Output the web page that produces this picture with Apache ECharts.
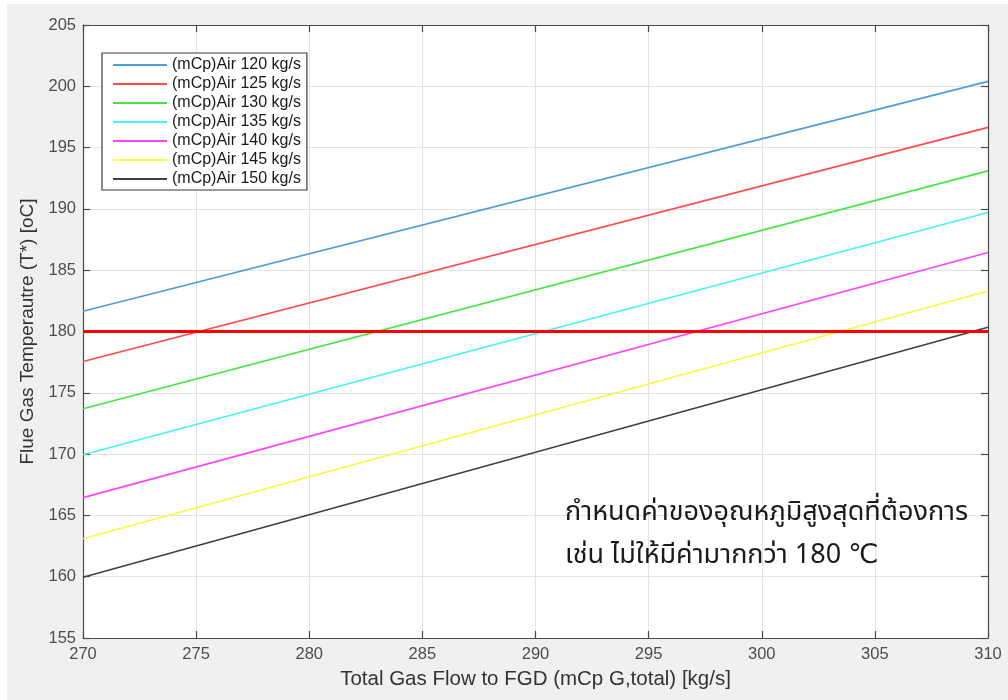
<!DOCTYPE html>
<html>
<head>
<meta charset="utf-8">
<script src="https://cdn.jsdelivr.net/npm/echarts@6/dist/echarts.min.js"></script>
<style>
  html, body { margin: 0; padding: 0; background: #ffffff; }
  #chart { position: absolute; left: 7px; top: 4px; width: 1001px; height: 696px; background: #f0f0f0; }
</style>
</head>
<body>
<div id="chart"></div>
<script>
// Gas flow to FGD [kg/s] at the two ends of each straight line
const gasFlow = [270, 310];

// Air flow cases (mCp)Air [kg/s]
const airFlows = [120, 125, 130, 135, 140, 145, 150];

// Flue gas temperature T* [oC] at gasFlow = 270 and 310, per air flow case
const temp120 = [181.65, 200.4];
const temp125 = [177.55, 196.65];
const temp130 = [173.7, 193.1];
const temp135 = [169.95, 189.7];
const temp140 = [166.45, 186.45];
const temp145 = [163.1, 183.3];
const temp150 = [159.95, 180.35];

// Upper temperature limit
const limitTemp = 180;

const xTicks = { min: 270, max: 310, interval: 5 };
const yTicks = { min: 155, max: 205, interval: 5 };

const seriesTemps = [temp120, temp125, temp130, temp135, temp140, temp145, temp150];
const lineColors = ['#4d9dd8', '#ff4a4a', '#44e644', '#44f4f4', '#ff44ff', '#f8f840', '#404040'];

const font = 'Liberation Sans, Arial, sans-serif';
const tickColor = '#4d4d4d';
const axisColor = '#4a4a4a';

const series = airFlows.map((a, i) => ({
  name: '(mCp)Air ' + a + ' kg/s',
  type: 'line',
  symbol: 'none',
  silent: true,
  animation: false,
  data: gasFlow.map((x, j) => [x, seriesTemps[i][j]]),
  lineStyle: { color: lineColors[i], width: 1.6 },
  itemStyle: { color: lineColors[i] },
  z: 3
}));

series.push({
  name: 'limit',
  type: 'line',
  symbol: 'none',
  silent: true,
  animation: false,
  data: gasFlow.map(x => [x, limitTemp]),
  lineStyle: { color: '#ff0000', width: 3 },
  z: 4
});

const chart = echarts.init(document.getElementById('chart'), null, { renderer: 'canvas' });

const gridBox = { left: 76, right: 20, top: 21, bottom: 62 };

function sideAxis(extra) {
  return Object.assign({
    type: 'value',
    axisLine: { show: true, onZero: false, lineStyle: { color: axisColor, width: 1.2 } },
    axisTick: { show: true, inside: true, length: 7, lineStyle: { color: axisColor, width: 1.2 } },
    axisLabel: { show: false },
    splitLine: { show: false }
  }, extra);
}

chart.setOption({
  animation: false,
  backgroundColor: '#f0f0f0',
  grid: Object.assign({ backgroundColor: '#ffffff', show: true, borderWidth: 0 }, gridBox),
  legend: {
    data: series.slice(0, 7).map(s => s.name),
    orient: 'vertical',
    left: 95,
    top: 49,
    itemWidth: 54,
    itemHeight: 14,
    itemGap: 3,
    padding: [4, 6, 3, 10],
    backgroundColor: '#ffffff',
    borderColor: '#3c3c3c',
    borderWidth: 1.2,
    selectedMode: false,
    itemStyle: { opacity: 0 },
    textStyle: { fontFamily: font, fontSize: 16, lineHeight: 15, color: '#1a1a1a' }
  },
  xAxis: [{
    type: 'value',
    min: xTicks.min, max: xTicks.max, interval: xTicks.interval,
    name: 'Total Gas Flow to FGD (mCp G,total) [kg/s]',
    nameLocation: 'middle',
    nameGap: 31,
    nameTextStyle: { fontFamily: font, fontSize: 20.5, color: '#333333' },
    axisLine: { show: true, onZero: false, lineStyle: { color: axisColor, width: 1.2 } },
    axisTick: { show: true, inside: true, length: 7, lineStyle: { color: axisColor, width: 1.2 } },
    axisLabel: { fontFamily: font, fontSize: 16.5, color: tickColor, margin: 8 },
    splitLine: { show: true, lineStyle: { color: '#e3e3e3', width: 1 } }
  }, sideAxis({ position: 'top', min: xTicks.min, max: xTicks.max, interval: xTicks.interval })],
  yAxis: [{
    type: 'value',
    min: yTicks.min, max: yTicks.max, interval: yTicks.interval,
    name: 'Flue Gas Temperautre (T*) [oC]',
    nameLocation: 'middle',
    nameGap: 44,
    nameTextStyle: { fontFamily: font, fontSize: 19, color: '#333333' },
    axisLine: { show: true, onZero: false, lineStyle: { color: axisColor, width: 1.2 } },
    axisTick: { show: true, inside: true, length: 7, lineStyle: { color: axisColor, width: 1.2 } },
    axisLabel: { fontFamily: font, fontSize: 16.5, color: tickColor, margin: 7 },
    splitLine: { show: true, lineStyle: { color: '#e3e3e3', width: 1 } }
  }, sideAxis({ position: 'right', min: yTicks.min, max: yTicks.max, interval: yTicks.interval })],
  graphic: [{
    type: 'text',
    left: 558,
    top: 489,
    z: 10,
    style: {
      text: 'กำหนดค่าของอุณหภูมิสูงสุดที่ต้องการ\nเช่น ไม่ให้มีค่ามากกว่า 180 ℃',
      fontFamily: 'Noto Sans Thai, Tahoma, Leelawadee UI, DejaVu Sans, sans-serif',
      fontSize: 27,
      lineHeight: 43,
      fill: '#1a1a1a'
    }
  }],
  series: series
});
</script>
</body>
</html>
